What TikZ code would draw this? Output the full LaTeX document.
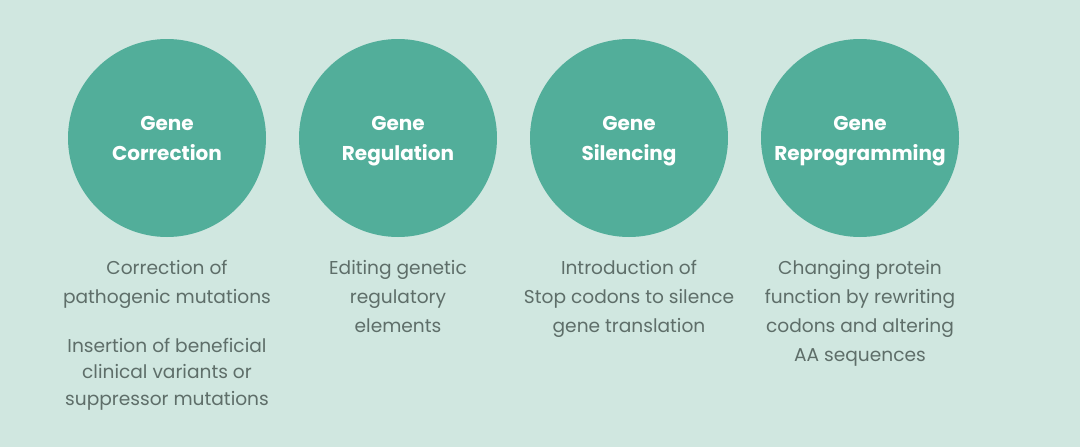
\documentclass[tikz,border=0pt]{standalone}
\usepackage{fontspec}
\setmainfont{Poppins}
\usepackage{tikz}
\usetikzlibrary{positioning}
\definecolor{bgmint}{HTML}{D0E7E0}
\definecolor{teal}{HTML}{52AE9A}
\definecolor{desc}{HTML}{5E6E69}
\tikzset{circ/.style={circle,fill=teal,minimum size=198pt,inner sep=0pt},title/.style={align=center,text=white,inner sep=0pt,font=\fontsize{20}{30}\selectfont\bfseries},descr/.style={align=center,text=desc,inner sep=0pt,font=\fontsize{18.6}{29}\selectfont}}

\begin{document}
\begin{tikzpicture}[x=1pt,y=-1pt,node distance=23pt]
\fill[bgmint] (0,0) rectangle (1080,447);
\useasboundingbox (0,0) rectangle (1080,447);
\node[circ] (c1) at (167,138) {};
\node[circ] (c2) at (398,138) {};
\node[circ] (c3) at (629,138) {};
\node[circ] (c4) at (860,138) {};
\node[title] (t1) at ([yshift=-3pt]c1) {Gene\\Correction\vphantom{g}};
\node[title] (t2) at ([yshift=-3pt]c2) {Gene\\Regulation};
\node[title] (t3) at ([yshift=-3pt]c3) {Gene\\Silencing};
\node[title] (t4) at ([yshift=-3pt]c4) {Gene\\Reprogramming};
\node[descr, below=of c1] (d1) {Correction of\\pathogenic mutations\\[20pt]Insertion of beneficial\\[-3pt]clinical variants or\\[-2pt]suppressor mutations};
\node[descr, below=of c2] (d2) {Editing genetic\\regulatory\\elements};
\node[descr, below=of c3] (d3) {Introduction of\\Stop codons to silence\\gene translation};
\node[descr, below=of c4] (d4) {Changing protein\\function by rewriting\\codons and altering\\AA sequences};
\end{tikzpicture}
\end{document}
